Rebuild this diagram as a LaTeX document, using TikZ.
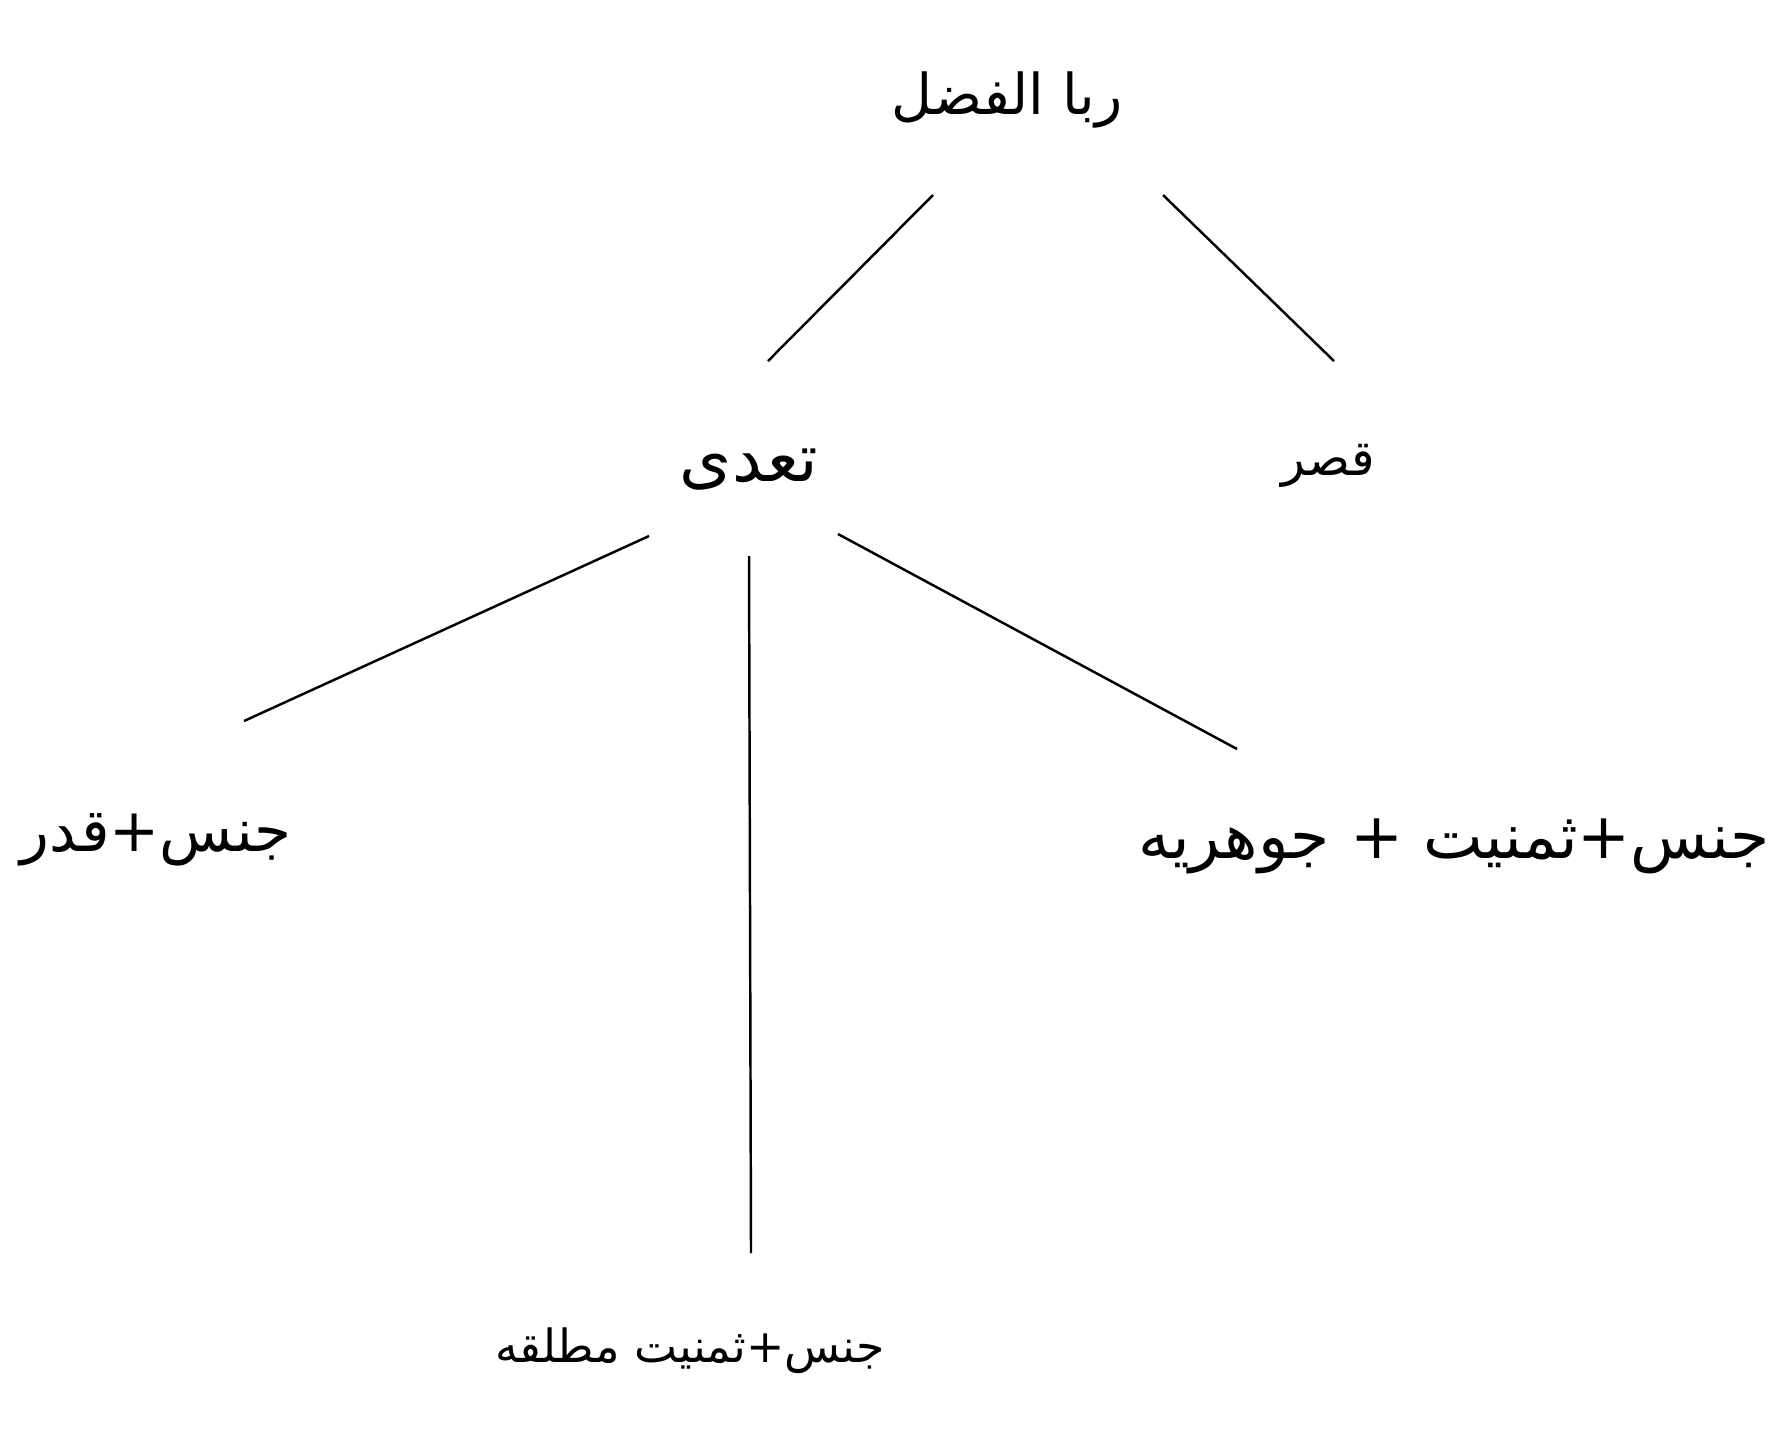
\documentclass[tikz,border=0pt]{standalone}
\usepackage{fontspec}
\TeXXeTstate=1
\newfontfamily\urdu[Script=Arabic]{DejaVu Sans}
\usetikzlibrary{calc}

\begin{document}
\begin{tikzpicture}[x=0.01cm,y=-0.01cm,
    term/.style={font=\urdu\fontsize{#1}{#1}\selectfont, inner sep=0pt},
    term/.default=18,
    link/.style={line width=0.7pt}]
    \useasboundingbox (0,0) rectangle (1780,1429);
    % top: riba al-fadl and its two kinds
    \node[term=16] (riba) at (1007,100) {\beginR ربا الفضل\endR};
    \node[term=19] (tadi) at (749,470) {\beginR تعدی\endR};
    \node[term=14] (qasr) at (1328,466) {\beginR قصر\endR};
    \draw[link] ($(riba)+(-74,95)$) -- ($(tadi)+(19,-109)$);
    \draw[link] ($(riba)+(156,95)$) -- ($(qasr)+(6,-105)$);

    % bottom: the three cases of ta'addi
    \node[term=17] (qadr) at (156,840) {\beginR جنس+قدر\endR};
    \node[term] (jauhar) at (1454,846) {\beginR جنس+ثمنیت + جوهریه\endR};
    \node[term=13] (mutlaq) at (690,1351) {\beginR جنس+ثمنیت مطلقه\endR};
    \draw[link] ($(tadi)+(-100,66)$) -- ($(qadr)+(88,-119)$);
    \draw[link] ($(tadi)+(0,86)$) -- ($(mutlaq)+(61,-98)$);
    \draw[link] ($(tadi)+(89,64)$) -- ($(jauhar)+(-217,-97)$);
\end{tikzpicture}
\end{document}
